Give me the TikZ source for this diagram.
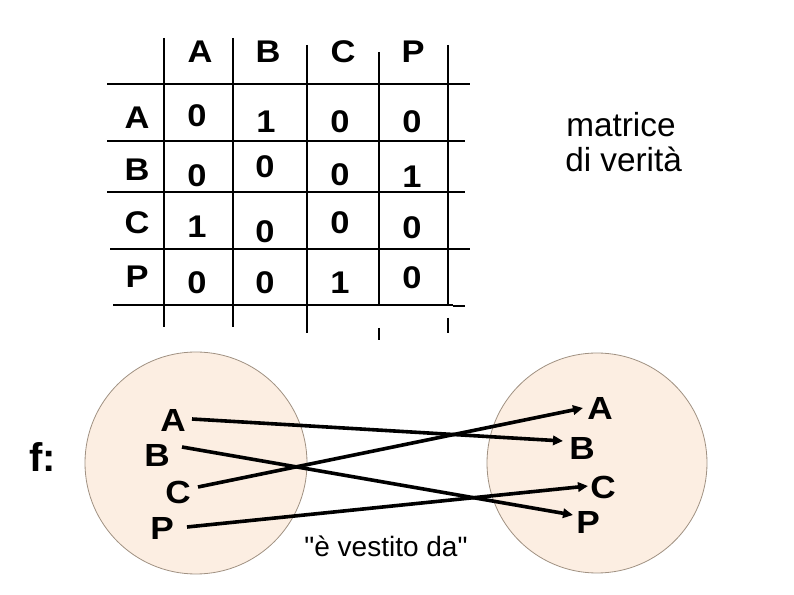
\documentclass[tikz,border=0pt]{standalone}
\usepackage{fontspec}
\setmainfont{Liberation Sans}
\newfontfamily\relfont{Liberation Sans}
\newfontfamily\widebold{Liberation Sans Bold}[FakeStretch=1.1]
\usetikzlibrary{arrows.meta}
\definecolor{setfill}{RGB}{252,238,226}
\definecolor{setline}{RGB}{160,145,130}
\begin{document}
\begin{tikzpicture}[x=0.75pt,y=-0.75pt,
  tab/.style={font=\widebold\fontsize{23.5}{23.5}\selectfont, inner sep=0pt},
  elem/.style={font=\widebold\fontsize{24}{24}\selectfont, inner sep=0pt},
  plain/.style={inner sep=0pt, anchor=base west},
  gridline/.style={line width=0.8pt},
  setcircle/.style={circle, draw=setline, fill=setfill, line width=0.6pt, inner sep=0pt},
  maparrow/.style={line width=2.7pt, -{Triangle[length=7.5pt,width=7pt]}}]
\useasboundingbox (0,0) rectangle (794,595);

% ---- table grid ----
\draw[gridline] (164,38) -- (164,327);
\draw[gridline] (233,38) -- (233,327);
\draw[gridline] (307,45) -- (307,333);
\draw[gridline] (379,52) -- (379,305);
\draw[gridline] (379,328) -- (379,340);
\draw[gridline] (448,45) -- (448,305);
\draw[gridline] (448,318) -- (448,333);
\draw[gridline] (107,84) -- (470,84);
\draw[gridline] (107,141) -- (465,141);
\draw[gridline] (107,192) -- (465,192);
\draw[gridline] (110,249) -- (470,249);
\draw[gridline] (113,305) -- (453,305);
\draw[gridline] (453,306) -- (465,306);

% ---- headers ----
\node[tab] (hA) at (200,52) {A};
\node[tab] (hB) at (268,52) {B};
\node[tab] (hC) at (343,52) {C};
\node[tab] (hP) at (413,52) {P};
\node[tab] (rA) at (137,118) {A};
\node[tab] (rB) at (137,170) {B};
\node[tab] (rC) at (137,223) {C};
\node[tab] (rP) at (137,277) {P};

% ---- values ----
\node[tab] (vAA) at (197,116) {0};
\node[tab] (vAB) at (266,122) {1};
\node[tab] (vAC) at (340,122) {0};
\node[tab] (vAP) at (412,122) {0};
\node[tab] (vBA) at (197,176) {0};
\node[tab] (vBB) at (265,167) {0};
\node[tab] (vBC) at (340,175) {0};
\node[tab] (vBP) at (412,177) {1};
\node[tab] (vCA) at (197,227) {1};
\node[tab] (vCB) at (265,232) {0};
\node[tab] (vCC) at (340,223) {0};
\node[tab] (vCP) at (412,228) {0};
\node[tab] (vPA) at (197,283) {0};
\node[tab] (vPB) at (265,283) {0};
\node[tab] (vPC) at (340,283) {1};
\node[tab] (vPP) at (412,278) {0};

% ---- caption ----
\node[plain, font=\fontsize{25}{25}\selectfont] (cap1) at (566,137) {matrice};
\node[plain, font=\fontsize{25}{25}\selectfont] (cap2) at (565,172) {di verità};

% ---- sets ----
\node[setcircle, minimum size=166.5pt] (L) at (196,463) {};
\node[setcircle, minimum size=165pt] (R) at (597,463) {};

\node[inner sep=0pt, font=\fontsize{30}{30}\selectfont\bfseries] (f) at (43,457) {f:};

\node[elem] (lA) at (173,420) {A};
\node[elem] (lB) at (157,455) {B};
\node[elem] (lC) at (178,492) {C};
\node[elem] (lP) at (162,528) {P};
\node[elem] (qA) at (600,408) {A};
\node[elem] (qB) at (582,448) {B};
\node[elem] (qC) at (603,487) {C};
\node[elem] (qP) at (588,522) {P};

\coordinate (sA) at (192,419);
\coordinate (sB) at (182,447);
\coordinate (sC) at (198,487);
\coordinate (sP) at (187,527);
\coordinate (tB) at (563,441);
\coordinate (tP) at (573,515);
\coordinate (tA) at (583,408);
\coordinate (tC) at (588,486);

\draw[maparrow] (sA) -- (tB);
\draw[maparrow] (sB) -- (tP);
\draw[maparrow] (sC) -- (tA);
\draw[maparrow] (sP) -- (tC);

\node[inner sep=0pt, anchor=base, font=\relfont\fontsize{21}{21}\selectfont] (rel) at (386,557) {"è vestito da"};
\end{tikzpicture}
\end{document}
